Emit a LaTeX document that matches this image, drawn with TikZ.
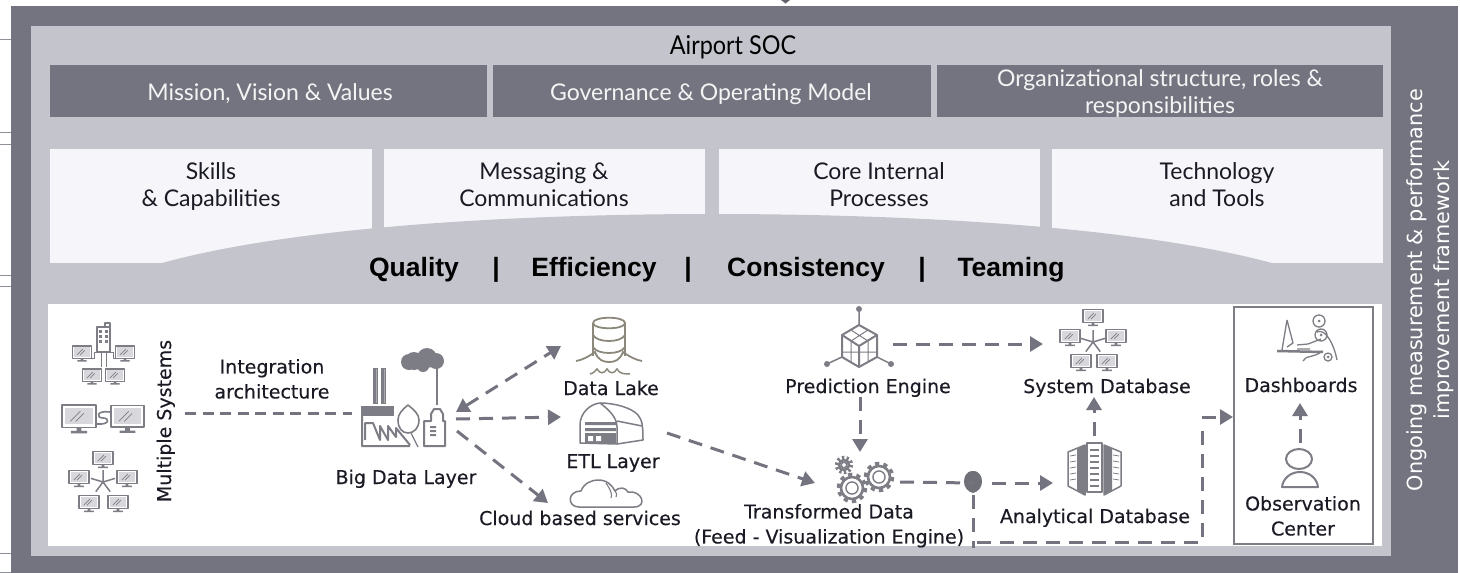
\documentclass[tikz,border=0pt]{standalone}
\usepackage{fontspec}
\setmainfont{DejaVu Sans}
\newfontfamily\labfont[FakeBold=0.3]{DejaVu Sans}
\newfontfamily\topfont{Lato}
\newfontfamily\boldfont{Liberation Sans}
\usetikzlibrary{arrows.meta}
\definecolor{ebar}{HTML}{747480}
\definecolor{elight}{HTML}{C4C4CD}
\definecolor{epale}{HTML}{F6F6FA}
\definecolor{eicon}{HTML}{7D7D85}
\definecolor{elake}{HTML}{8C887C}
\definecolor{escreen}{HTML}{D8D8DC}
\definecolor{etext}{HTML}{1A1A24}
\tikzset{
  panel/.style={fill=#1,draw=none},
  toptext/.style={inner sep=0,align=center,text=white!92!ebar,font=\topfont\fontsize{23}{27}\selectfont},
  paletext/.style={inner sep=0,align=center,text=etext,font=\topfont\fontsize{23}{27}\selectfont},
  valuetext/.style={inner sep=0,text=black,font=\boldfont\bfseries\fontsize{26.5}{30}\selectfont},
  lab/.style={inner sep=0,align=center,text=etext,font=\labfont\fontsize{19}{25}\selectfont},
  sidetext/.style={inner sep=0,align=center,text=white,rotate=90,font=\fontsize{20.8}{27}\selectfont},
  flow/.style={draw=ebar,line width=3pt,dash pattern=on 14pt off 9pt},
  flowtip/.style={flow,-{Triangle[length=13pt,width=15pt]}},
  bothtip/.style={flow,{Triangle[length=13pt,width=15pt]}-{Triangle[length=13pt,width=15pt]}},
  icon/.style={draw=eicon,line width=1.5pt,line join=round},
  iconbox/.style={inner sep=0,draw=none,minimum width=#1,minimum height=#1},
  stub/.style={draw=ebar!80,line width=1pt},
  stable/.style={execute at begin node=\strut,execute at end node=\strut},
}
\newcommand{\icmon}[3]{%
  \begin{scope}[shift={(#1,#2)},scale=#3]
    \draw[icon,fill=white] (-.5,-.38) rectangle (.5,.28);
    \fill[escreen] (-.4,-.29) rectangle (.4,.19);
    \draw[eicon,line width=.7pt] (-.26,.1)--(.04,-.2) (-.1,.1)--(.14,-.14);
    \fill[eicon] (-.07,.28) rectangle (.07,.38) (-.24,.38) rectangle (.24,.45);
  \end{scope}}
\newcommand{\icstar}[3]{%
  \draw[icon] (#1,#2) -- ++(0,-#3) (#1,#2) -- ++(#3,-.3*#3) (#1,#2) -- ++(-#3,-.3*#3)
    (#1,#2) -- ++(.6*#3,.8*#3) (#1,#2) -- ++(-.6*#3,.8*#3);}
\newcommand{\icgear}[3]{%
  \pgfmathsetmacro{\gp}{2*3.14159*(#3-1.5)/10/2}
  \draw[eicon,line width=3.5pt,dash pattern=on \gp pt off \gp pt] (#1,#2) circle ({#3-1.5});
  \draw[eicon,line width=2.6pt,fill=white] (#1,#2) circle ({#3-4});
  \draw[eicon,line width=1.4pt,fill=white] (#1,#2) circle ({(#3-4)*.55});}
\begin{document}
\begin{tikzpicture}[x=1pt,y=-1pt]
\useasboundingbox (0,0) rectangle (1460,573);
% frame
\fill[white] (0,0) rectangle (1460,573);
\foreach \yy in {39,132,144,275,286,553,572} \draw[stub] (0,\yy) -- (11,\yy);
\fill[ebar!85!black] (781,0) -- (790,0) -- (785.5,3.5) -- cycle;
\fill[panel=ebar] (11,6) rectangle (1458,573);
\fill[panel=elight] (31,26) rectangle (1391,556);
% top bars
\node[panel=ebar,minimum width=437pt,minimum height=52pt,inner sep=0] (mv) at (268.5,91) {};
\node[panel=ebar,minimum width=438pt,minimum height=52pt,inner sep=0] (gov) at (712,91) {};
\node[panel=ebar,minimum width=446pt,minimum height=52pt,inner sep=0] (org) at (1160,91) {};
\node[inner sep=0,text=black,font=\topfont\fontsize{26}{30}\selectfont] (title) at (733,47) {\scalebox{.9}[1]{Airport SOC}};
\node[toptext,stable] (mvt) at (270,95) {Mission, Vision \& Values};
\node[toptext,stable] (govt) at (711,95) {Governance \& Operating Model};
\node[toptext,stable] (orgt) at (1160,96) {Organizational structure, roles \&\\responsibilities};
% pale boxes
\fill[panel=epale] (50,149) rectangle (372,263);
\fill[panel=epale] (384,149) rectangle (705,263);
\fill[panel=epale] (719,149) rectangle (1040,263);
\fill[panel=epale] (1052,149) rectangle (1383,263);
\fill[panel=elight] (162,263) .. controls (300,225) and (530,214) .. (712,214) .. controls (900,214) and (1130,225) .. (1272,263) -- cycle;
\node[paletext,stable] (skills) at (211,189) {Skills\\\& Capabilities};
\node[paletext,stable] (msg) at (544,189) {Messaging \&\\Communications};
\node[paletext,stable] (core) at (879,189) {Core Internal\\Processes};
\node[paletext,stable] (tech) at (1217,189) {Technology\\and Tools};
% values
\node[valuetext] (q) at (414,270) {Quality};
\node[valuetext] (s1) at (496,270) {|};
\node[valuetext] (e) at (594,270) {Efficiency};
\node[valuetext] (s2) at (688,270) {|};
\node[valuetext] (c) at (806,270) {Consistency};
\node[valuetext] (s3) at (922,270) {|};
\node[valuetext] (t) at (1011,270) {Teaming};
% white panel
\fill[white] (48,304) rectangle (1382,546);
\node[draw=eicon,line width=2pt,fill=white,minimum width=139pt,minimum height=237pt,inner sep=0] (dashbox) at (1303.5,425.5) {};
% side text
\node[sidetext,stable] (side) at (1432,290) {Ongoing measurement \& performance\\improvement framework};
% labels
\node[lab,rotate=90,stable] (multi) at (166,421) {Multiple Systems};
\node[lab,stable] (integ) at (272,382.5) {Integration\\architecture};
\node[lab,stable] (bigl) at (406,479) {Big Data Layer};
\node[lab,stable] (lakel) at (611,390) {Data Lake};
\node[lab,stable] (etll) at (613,463) {ETL Layer};
\node[lab,stable] (cloudl) at (580,520) {Cloud based services};
\node[lab,stable] (predl) at (868,388) {Prediction Engine};
\node[lab,stable] (transl) at (829,527.5) {Transformed Data\\(Feed - Visualization Engine)};
\node[lab,stable] (sysl) at (1107,388) {System Database};
\node[lab,stable] (anal) at (1095,518) {Analytical Database};
\node[lab,stable] (dashl) at (1301,387) {Dashboards};
\node[lab,stable] (obsl) at (1303,519.5) {Observation\\Center};
% ---- icons
% multiple systems
\icmon{82}{353}{19}\icmon{125}{353}{19}\icmon{92}{376}{19}\icmon{115}{376}{19}
\draw[icon,fill=white] (97,327) rectangle (110,352);
\draw[icon] (105,327) -- (105,323) -- (110,323) -- (110,327);
\foreach \a in {100.5,106.5} \foreach \b in {331,336,341} \fill[eicon] (\a-1.5,\b-1.5) rectangle ++(3,3);
\draw[icon,line width=1pt] (94,352) -- (113,352) (101,352) -- (101,367) (106,352) -- (106,367)
  (94,352) -- (94,358) -- (90,358) (113,352) -- (113,358) -- (117,358);
\icmon{79}{418}{34}\icmon{127.5}{418}{33}
\draw[icon,line width=1.6pt] (110,412) .. controls (96,410) and (96,418) .. (103,418) .. controls (110,418) and (110,425) .. (97,424);
\icstar{103}{482}{12}
\icmon{103}{459}{20}\icmon{79}{478}{20}\icmon{127}{478}{20}\icmon{89}{503}{20}\icmon{118}{503}{20}
% factory
\node[iconbox=10pt] (big) at (403,410) {};
\fill[eicon] (374,368) rectangle (376.5,403) (382,368) rectangle (384.5,403);
\draw[eicon,line width=1pt] (373.5,368) rectangle (377,403) (381.5,368) rectangle (385,403);
\fill[eicon] (361,406) rectangle (394,416);
\draw[icon,line width=2pt] (362,416) -- (362,446) -- (410,446)
  (365,440) -- (365,423) -- (373,423) -- (380,440) -- (380,426) -- (388,440) -- (388,426) -- (396,437) -- (396,428) -- (410,445);
\draw[icon,fill=white,line width=1.6pt] (408,405) .. controls (402,410) and (398,414) .. (398,420) .. controls (398,428) and (402,433) .. (408,433) .. controls (414,433) and (419,428) .. (419,420) .. controls (419,414) and (414,410) .. (408,405) -- cycle;
\draw[icon,line width=1.2pt] (411,433) -- (418,447);
\draw[icon,line width=2pt] (424,446) -- (424,421) -- (431,421) -- (431,414) -- (434,409) -- (440,409) -- (443,414) -- (443,421) -- (445,421) -- (445,446) -- cycle;
\fill[eicon] (430,426) rectangle (436,428) (430,430) rectangle (436,432) (430,434) rectangle (436,436);
\draw[eicon,line width=2.5pt] (437,368) -- (437,405);
\fill[eicon] (414,361) circle (9) (427,358) circle (10) (436,361) circle (8) (423,366) circle (6) (409,362) circle (8);
% data lake
\node[iconbox=10pt] (lake) at (609,340) {};
\draw[elake,line width=1.8pt] (593,323) .. controls (593,316) and (625,316) .. (625,323) .. controls (625,330) and (593,330) .. (593,323);
\draw[elake,line width=1.8pt] (593,323) -- (593,356) (625,323) -- (625,356);
\draw[elake,line width=1.8pt] (593,335) .. controls (597,343) and (621,343) .. (625,335);
\draw[elake,line width=1.8pt] (593,347) .. controls (597,355) and (621,355) .. (625,347);
\draw[elake,line width=1.8pt] (576,361) .. controls (582,360) and (588,357) .. (595,352) .. controls (598,360) and (603,362) .. (609,362) .. controls (615,362) and (620,360) .. (623,352) .. controls (630,357) and (636,360) .. (642,361);
\draw[elake,line width=1.5pt] (590,374) .. controls (594,373) and (595,371) .. (597,369) .. controls (600,374) and (604,374) .. (607,369) .. controls (610,374) and (614,374) .. (617,369) .. controls (620,374) and (624,374) .. (630,374);
% ETL hangar
\node[iconbox=10pt] (etl) at (611,424) {};
\draw[icon] (580,443) -- (580,425) .. controls (580,413) and (590,404) .. (600,403) .. controls (615,403) and (632,408) .. (638,415) .. controls (642,420) and (643,425) .. (643,440) -- (617,444) -- cycle;
\draw[icon] (617,444) -- (617,427) .. controls (617,417) and (608,409) .. (600,403) (617,421) -- (642,426);
\fill[eicon] (585,422) rectangle (616,425) (585,428) rectangle (616,431) (585,433) rectangle (616,443);
\fill[white] (588,436) rectangle (593,441) (596,436) rectangle (601,441);
% cloud
\node[iconbox=10pt] (cloud) at (607,494) {};
\draw[icon] (579,507) .. controls (567,507) and (567,491) .. (581,491) .. controls (584,483) and (592,480) .. (598,480) .. controls (607,480) and (612,485) .. (615,491) .. controls (620,486) and (626,488) .. (628,492) .. controls (642,490) and (648,507) .. (634,507) -- cycle;
\draw[icon,line width=1.1pt] (606,483) .. controls (612,492) and (612,495) .. (611,498) (615,491) .. controls (617,494) and (617,495) .. (616,497);
% prediction cube
\node[iconbox=10pt] (pred) at (859,346) {};
\draw[icon,line width=2pt] (859,325) -- (877,335) -- (877,357) -- (859,367) -- (842,357) -- (842,335) -- cycle;
\draw[icon,line width=2pt] (842,335) -- (859,346) -- (877,335) (859,346) -- (859,367);
\draw[icon,line width=1pt] (851,330) -- (868,341) (868,330) -- (851,341)
  (851,341) -- (851,362) (868,341) -- (868,362) (842,352) -- (859,352) (859,352) -- (877,352);
\draw[eicon,line width=1.5pt] (859,325) -- (859,309) (842,357) -- (827,364) (877,357) -- (891,364);
\fill[eicon] (859,309) circle (3) (827,364) circle (3) (891,364) circle (3);
% gears
\node[iconbox=10pt] (gears) at (860,478) {};
\icgear{844}{465}{9}\icgear{852}{488}{15}\icgear{879}{477}{15}
% pin
\node[iconbox=10pt] (pin) at (973,482) {};
\fill[eicon!90!black] (973,471) .. controls (980,471) and (982,477) .. (982,482) .. controls (982,487) and (978,492) .. (973,493) .. controls (968,492) and (964,487) .. (964,482) .. controls (964,477) and (966,471) .. (973,471) -- cycle;
% system database
\node[iconbox=10pt] (sys) at (1093,342) {};
\icstar{1093}{342}{12}
\icmon{1093}{317}{20}\icmon{1070}{337}{20}\icmon{1116}{337}{20}\icmon{1081}{362}{20}\icmon{1107}{362}{20}
% analytical database
\node[iconbox=10pt] (adb) at (1094,468) {};
\draw[icon,line width=2pt,fill=white] (1087,443) rectangle (1102,492);
\foreach \yy in {449,455,461,467,473,479,485} \fill[eicon] (1090,\yy) rectangle (1099,\yy+1.6);
\draw[icon,fill=white] (1068,452) -- (1085,445) -- (1085,495) -- (1068,486) -- cycle;
\fill[eicon] (1077,449) -- (1085,445) -- (1085,495) -- (1077,491) -- cycle;
\draw[icon,fill=white] (1121,452) -- (1104,445) -- (1104,495) -- (1121,486) -- cycle;
\fill[eicon] (1112,449) -- (1104,445) -- (1104,495) -- (1112,491) -- cycle;
\foreach \yy in {456,462,468,474,480} {\draw[eicon,line width=.8pt] (1070,\yy) -- (1076,\yy-1); \draw[eicon,line width=.8pt] (1119,\yy) -- (1113,\yy-1);}
% dashboards
\node[iconbox=10pt] (dash) at (1301,340) {};
\draw[icon,line width=1.3pt] (1287,320) -- (1282,350) (1287,320) -- (1293,343) -- (1287,347);
\draw[icon,line width=2.5pt] (1277,351) -- (1323,352);
\draw[icon,line width=1.3pt] (1319,321) circle (6) (1321,335) circle (6) (1328,357) circle (4)
  (1317,332) .. controls (1326,328) and (1334,345) .. (1337,360)
  (1321,339) -- (1308,344) -- (1297,345) (1297,349) -- (1310,349)
  (1303,361) .. controls (1305,355) and (1315,358) .. (1322,351);
\fill[eicon] (1319,321) circle (1.5) (1321,335) circle (1.5) (1328,357) circle (1.5);
% observation person
\node[iconbox=10pt] (obs) at (1300,472) {};
\draw[icon,line width=2pt] (1299,459) ellipse (13 and 10);
\draw[icon,line width=2pt] (1282,487) .. controls (1283,478) and (1291,472) .. (1300,472) .. controls (1309,472) and (1317,478) .. (1318,487) -- cycle;
% ---- connector ports
\coordinate (multiP) at (185,413.5);
\coordinate (bigW) at (352,413.5);
\coordinate (bigA) at (456,412);
\coordinate (bigB) at (456,419);
\coordinate (bigC) at (457,431);
\coordinate (lakeP) at (561,346);
\coordinate (etlW) at (561,417);
\coordinate (etlE) at (667,433);
\coordinate (cloudP) at (548,503);
\coordinate (gearW) at (815,483);
\coordinate (gearN) at (860,452);
\coordinate (gearE) at (900,482);
\coordinate (predS) at (860,397);
\coordinate (predE) at (893,344);
\coordinate (sysW) at (1043,344);
\coordinate (sysS) at (1094,397);
\coordinate (adbN) at (1094,436);
\coordinate (adbW) at (1053,483);
\coordinate (pinE) at (992,483);
\coordinate (pinL) at (973,483);
\coordinate (pinS) at (973,495);
\coordinate (pinB) at (973,548);
\coordinate (busL) at (977,542);
\coordinate (busC) at (1202,542);
\coordinate (busT) at (1202,425);
\coordinate (busU) at (1202,417);
\coordinate (dashW) at (1233,417);
\coordinate (dashS) at (1300,403);
\coordinate (obsN) at (1300,443);
% connectors
\draw[flow,dash pattern=on 11pt off 6.5pt] (multiP) -- (bigW);
\draw[bothtip] (bigA) -- (lakeP);
\draw[flowtip] (bigB) -- (etlW);
\draw[flowtip] (bigC) -- (cloudP);
\draw[flowtip] (etlE) -- (gearW);
\draw[flowtip] (predE) -- (sysW);
\draw[flowtip] (predS) -- (gearN);
\draw[flow] (gearE) -- (pinL);
\draw[flowtip] (pinE) -- (adbW);
\draw[flowtip] (adbN) -- (sysS);
\draw[flow] (pinS) -- (pinB);
\draw[flow] (busL) -- (busC) -- (busT);
\draw[flowtip] (busU) -- (dashW);
\draw[flowtip] (obsN) -- (dashS);
\end{tikzpicture}
\end{document}
